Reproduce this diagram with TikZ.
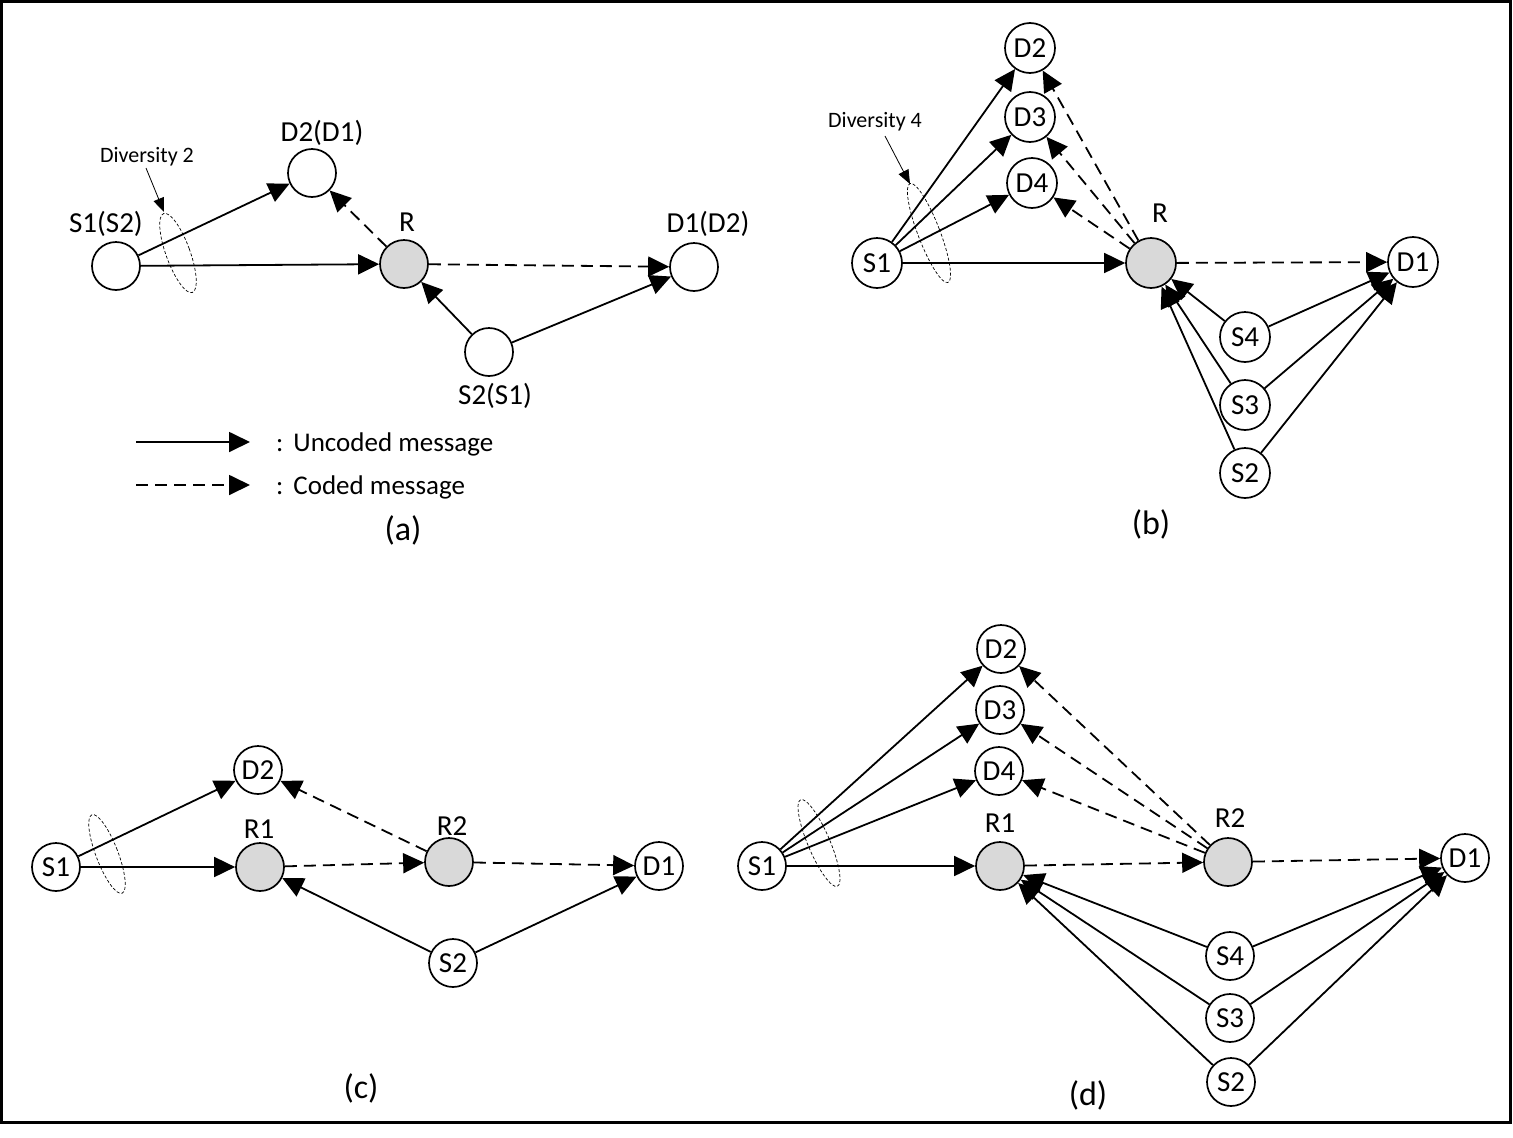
\documentclass[tikz,border=0pt]{standalone}
\usepackage{fontspec}
\setmainfont{Carlito}
\usetikzlibrary{arrows.meta}
\definecolor{relayfill}{RGB}{217,217,217}
\begin{document}
\begin{tikzpicture}[x=1pt,y=-1pt,
  nd/.style={circle,draw,line width=1.7pt,minimum size=48pt,inner sep=0pt,font=\fontsize{29}{31}\selectfont},
  ndb/.style={nd,minimum size=50pt},
  relay/.style={nd,fill=relayfill},
  lbl/.style={font=\fontsize{29}{31}\selectfont,inner sep=0pt},
  uc/.style={line width=1.8pt,-{Triangle[length=21pt,width=20pt]}},
  cd/.style={uc,dash pattern=on 12pt off 7pt},
  div/.style={draw,line width=0.7pt,dash pattern=on 3pt off 2pt},
  divtxt/.style={font=\fontsize{22}{24}\selectfont,inner sep=0pt},
  divarr/.style={line width=0.8pt,-{Triangle[length=14pt,width=11pt]}},
  capt/.style={font=\fontsize{34}{36}\selectfont,inner sep=0pt},
  leg/.style={font=\fontsize{27}{29}\selectfont,inner sep=0pt}
]
\useasboundingbox (0,0) rectangle (1513,1138);
\draw[line width=3pt] (1.5,1.5) rectangle (1510.5,1122.5);

% ---------------- (a)
\node[nd] (aS1) at (116,266) {};
\node[nd] (aD2) at (312,173) {};
\node[relay] (aR) at (404,264) {};
\node[nd] (aD1) at (694,267) {};
\node[nd] (aS2) at (489,352) {};
\node[lbl] (aS1l) at (106,224) {S1(S2)};
\node[lbl] (aD2l) at (322,133) {D2(D1)};
\node[lbl] (aRl) at (407,222) {R};
\node[lbl] (aD1l) at (708,224) {D1(D2)};
\node[lbl] (aS2l) at (495,396) {S2(S1)};
\draw[uc] (aS1) -- (aD2);
\draw[uc] (aS1) -- (aR);
\draw[cd] (aR) -- (aD2);
\draw[cd] (aR) -- (aD1);
\draw[uc] (aS2) -- (aR);
\draw[uc] (aS2) -- (aD1);
\draw[div,rotate around={20:(178,253)}] (178,253) ellipse [x radius=12pt, y radius=42pt];
\node[divtxt] (aDiv) at (147,157) {Diversity 2};
\coordinate (aDivT) at (164,212);
\draw[divarr] (146,168) -- (aDivT);

% legend
\coordinate (l1s) at (136,442);
\coordinate (l1e) at (250,442);
\coordinate (l2s) at (136,485);
\coordinate (l2e) at (250,485);
\draw[uc] (l1s) -- (l1e);
\draw[cd] (l2s) -- (l2e);
\node[leg,anchor=base west] (lt1) at (276,451) {:\hspace{10pt}Uncoded message};
\node[leg,anchor=base west] (lt2) at (276,494) {:\hspace{10pt}Coded message};
\node[capt] (capa) at (403,530) {(a)};

% ---------------- (b)
\node[ndb] (bS1) at (877,263) {S1};
\node[ndb] (bD2) at (1030,48) {D2};
\node[ndb] (bD3) at (1030,117) {D3};
\node[ndb] (bD4) at (1032,183) {D4};
\node[relay,minimum size=50pt] (bR) at (1151,263) {};
\node[ndb] (bD1) at (1413,262) {D1};
\node[ndb] (bS4) at (1245,337) {S4};
\node[ndb] (bS3) at (1245,405) {S3};
\node[ndb] (bS2) at (1245,473) {S2};
\node[lbl] (bRl) at (1160,213) {R};
\foreach \t in {bD2,bD3,bD4,bR} \draw[uc] (bS1) -- (\t);
\foreach \t in {bD2,bD3,bD4,bD1} \draw[cd] (bR) -- (\t);
\foreach \s in {bS4,bS3,bS2} {\draw[uc] (\s) -- (bR); \draw[uc] (\s) -- (bD1);}
\draw[div,rotate around={21:(929,233)}] (929,233) ellipse [x radius=11pt, y radius=53pt];
\node[divtxt] (bDiv) at (875,122) {Diversity 4};
\coordinate (bDivT) at (910,184);
\draw[divarr] (885,136) -- (bDivT);
\node[capt] (capb) at (1151,524) {(b)};

% ---------------- (c)
\node[nd] (cS1) at (56,867) {S1};
\node[nd] (cD2) at (258,770) {D2};
\node[relay] (cR1) at (260,867) {};
\node[relay] (cR2) at (449,862) {};
\node[nd] (cD1) at (659,866) {D1};
\node[nd] (cS2) at (453,963) {S2};
\node[lbl] (cR1l) at (259,829) {R1};
\node[lbl] (cR2l) at (452,826) {R2};
\draw[uc] (cS1) -- (cD2);
\draw[uc] (cS1) -- (cR1);
\draw[cd] (cR1) -- (cR2);
\draw[cd] (cR2) -- (cD2);
\draw[cd] (cR2) -- (cD1);
\draw[uc] (cS2) -- (cR1);
\draw[uc] (cS2) -- (cD1);
\draw[div,rotate around={21:(107,854)}] (107,854) ellipse [x radius=11pt, y radius=42pt];
\node[capt] (capc) at (361,1088) {(c)};

% ---------------- (d)
\node[nd] (dS1) at (762,866) {S1};
\node[nd] (dD2) at (1001,649) {D2};
\node[nd] (dD3) at (1000,710) {D3};
\node[nd] (dD4) at (999,771) {D4};
\node[relay] (dR1) at (1000,866) {};
\node[relay] (dR2) at (1228,862) {};
\node[nd] (dD1) at (1465,858) {D1};
\node[nd] (dS4) at (1230,956) {S4};
\node[nd] (dS3) at (1230,1018) {S3};
\node[nd] (dS2) at (1231,1082) {S2};
\node[lbl] (dR1l) at (1000,823) {R1};
\node[lbl] (dR2l) at (1230,818) {R2};
\foreach \t in {dD2,dD3,dD4,dR1} \draw[uc] (dS1) -- (\t);
\draw[cd] (dR1) -- (dR2);
\foreach \t in {dD2,dD3,dD4,dD1} \draw[cd] (dR2) -- (\t);
\foreach \s in {dS4,dS3,dS2} {\draw[uc] (\s) -- (dR1); \draw[uc] (\s) -- (dD1);}
\draw[div,rotate around={23:(819,843)}] (819,843) ellipse [x radius=11pt, y radius=47pt];
\node[capt] (capd) at (1088,1095) {(d)};
\end{tikzpicture}
\end{document}
